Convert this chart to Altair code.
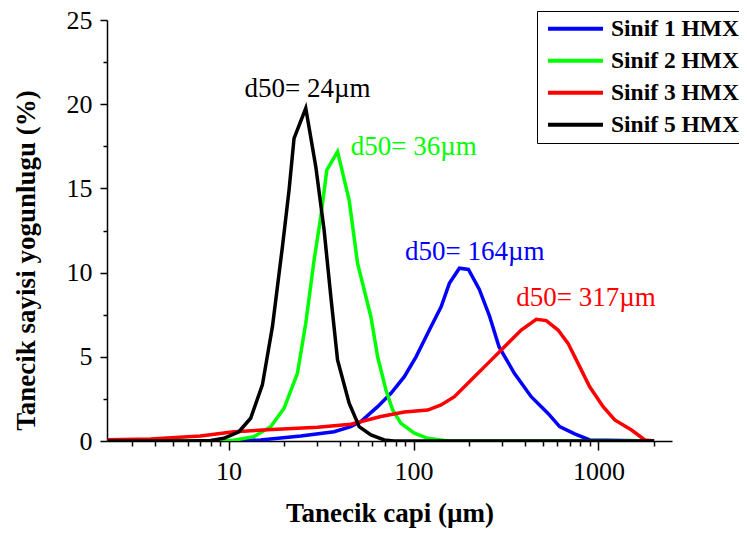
import altair as alt
import pandas as pd

FONT = "Liberation Serif"

series_names = ["Sinif 1 HMX", "Sinif 2 HMX", "Sinif 3 HMX", "Sinif 5 HMX"]
series_colors = ["#0000FF", "#00FF00", "#FF0000", "#000000"]

# Sinif 1 HMX (blue)
s1_x = [2.21, 9.4, 14.9, 24.56, 37.2, 45.8, 51.9, 63.97, 75.5, 89.2, 103.2, 121.8, 141.0,
        156.3, 177.1, 198.2, 227.0, 258.0, 290.0, 351.0, 433.0, 534.0, 617.0, 744.0, 897.0, 2000.0]
s1_y = [0.0, 0.0, 0.06, 0.3, 0.55, 0.85, 1.15, 2.04, 2.83, 3.82, 5.0, 6.59, 7.97,
        9.36, 10.26, 10.19, 9.0, 7.4, 5.6, 4.02, 2.63, 1.64, 0.85, 0.42, 0.06, 0.0]

# Sinif 2 HMX (green)
s2_x = [2.21, 8.0, 10.68, 13.71, 16.89, 19.94, 23.57, 26.14, 29.0, 31.52, 33.98, 38.83, 44.87,
        49.84, 58.83, 63.97, 70.96, 77.16, 85.55, 101.0, 119.4, 153.2, 2000.0]
s2_y = [0.0, 0.0, 0.05, 0.26, 0.85, 1.94, 4.02, 6.99, 10.75, 13.32, 16.09, 17.18, 14.31,
        10.55, 7.38, 5.0, 3.03, 1.84, 1.05, 0.46, 0.16, 0.0, 0.0]

# Sinif 3 HMX (red)
s3_x = [2.21, 3.78, 7.05, 10.68, 16.2, 30.3, 45.8, 66.6, 89.2, 119.4, 141.0, 166.4, 205.0,
        252.5, 310.6, 382.4, 461.3, 522.6, 604.8, 685.1, 776.2, 897.0, 1060.5, 1225.5, 1510.0,
        1782.0, 2000.0]
s3_y = [0.08, 0.12, 0.3, 0.55, 0.67, 0.82, 1.0, 1.45, 1.72, 1.84, 2.14, 2.63, 3.62,
        4.61, 5.6, 6.59, 7.23, 7.15, 6.59, 5.8, 4.61, 3.22, 2.04, 1.25, 0.65,
        0.06, 0.0]

# Sinif 5 HMX (black)
s5_x = [2.21, 4.0, 6.0, 8.0, 9.43, 11.37, 13.16, 15.23, 17.26, 19.55, 21.23, 22.59, 26.14,
        29.62, 32.85, 35.72, 38.83, 44.87, 50.84, 58.83, 69.45, 78.4, 2000.0]
s5_y = [0.0, 0.0, 0.0, 0.03, 0.16, 0.55, 1.35, 3.33, 6.79, 11.54, 14.9, 17.97, 19.76,
        16.29, 12.53, 8.57, 4.81, 2.24, 0.85, 0.36, 0.06, 0.0, 0.0]

# d50 annotations
ann_text = ["d50= 24µm", "d50= 36µm", "d50= 164µm", "d50= 317µm"]
ann_x = [12.2, 45.8, 89.9, 359.4]
ann_y = [20.43, 16.98, 10.75, 8.02]
ann_color = ["#000000", "#00FF00", "#0000FF", "#FF0000"]

x_ticks = [3, 4, 5, 6, 7, 8, 9, 10, 20, 30, 40, 50, 60, 70, 80, 90,
           100, 200, 300, 400, 500, 600, 700, 800, 900, 1000, 2000]
y_ticks = [0, 2.5, 5, 7.5, 10, 12.5, 15, 17.5, 20, 22.5, 25]

rows = []
for name, xs, ys in zip(series_names, [s1_x, s2_x, s3_x, s5_x], [s1_y, s2_y, s3_y, s5_y]):
    for i, (xv, yv) in enumerate(zip(xs, ys)):
        rows.append({"series": name, "x": xv, "y": yv, "order": i})
df = pd.DataFrame(rows)

ann_df = pd.DataFrame({"text": ann_text, "x": ann_x, "y": ann_y, "color": ann_color})

x_scale = alt.Scale(type="log", domain=[2.2, 2500], nice=False)
y_scale = alt.Scale(domain=[0, 25], nice=False)

x_axis = alt.Axis(
    title="Tanecik capi (µm)",
    values=x_ticks,
    labelExpr="(datum.value == 10 || datum.value == 100 || datum.value == 1000) ? format(datum.value, 'd') : ''",
    grid=False,
    tickSize={"condition": {"test": "datum.value == 10 || datum.value == 100 || datum.value == 1000", "value": 9}, "value": 5},
    tickColor="black", tickWidth=1.5, domainColor="black", domainWidth=1.5,
    labelFont=FONT, labelFontSize=26, labelColor="black", labelPadding=8,
    titleFont=FONT, titleFontSize=27, titleFontWeight="bold", titleColor="black", titlePadding=16,
    labelFlush=False, labelOverlap=False,
)
y_axis = alt.Axis(
    title="Tanecik sayisi yogunlugu (%)",
    values=y_ticks,
    labelExpr="datum.value % 5 == 0 ? format(datum.value, 'd') : ''",
    grid=False,
    tickSize={"condition": {"test": "datum.value % 5 == 0", "value": 7}, "value": 4},
    tickColor="black", tickWidth=1.5, domainColor="black", domainWidth=1.5,
    labelFont=FONT, labelFontSize=26, labelColor="black", labelPadding=8,
    titleFont=FONT, titleFontSize=27, titleFontWeight="bold", titleColor="black", titlePadding=26,
    titleY=240,
    labelFlush=False, labelOverlap=False,
)

lines = alt.Chart(df).mark_line(strokeWidth=3.5, clip=True).encode(
    x=alt.X("x:Q", scale=x_scale, axis=x_axis),
    y=alt.Y("y:Q", scale=y_scale, axis=y_axis),
    color=alt.Color(
        "series:N",
        scale=alt.Scale(domain=series_names, range=series_colors),
        sort=series_names,
        legend=alt.Legend(
            title=None, orient="none", legendX=430, legendY=-9,
            symbolType="M-4,0H4", symbolSize=189, symbolStrokeWidth=4,
            symbolOffset=20.75, labelOffset=23.75,
            labelFont=FONT, labelFontSize=23.5, labelFontWeight="bold", labelColor="black",
            labelLimit=0, strokeColor="black", fillColor="white", padding=6, rowPadding=7,
        ),
    ),
    order="order:Q",
)

texts = alt.Chart(ann_df).mark_text(
    align="left", baseline="alphabetic", font=FONT, fontSize=27
).encode(
    x=alt.X("x:Q", scale=x_scale),
    y=alt.Y("y:Q", scale=y_scale),
    text="text:N",
    color=alt.Color("color:N", scale=None),
)

chart = alt.layer(lines, texts).properties(
    width=565, height=421,
    padding={"left": 99, "top": 12, "right": 67, "bottom": 92},
    autosize=alt.AutoSizeParams(type="none"),
    background="white",
).configure_view(stroke=None)

chart.save("out.html", embed_options={"renderer": "svg", "actions": False})
